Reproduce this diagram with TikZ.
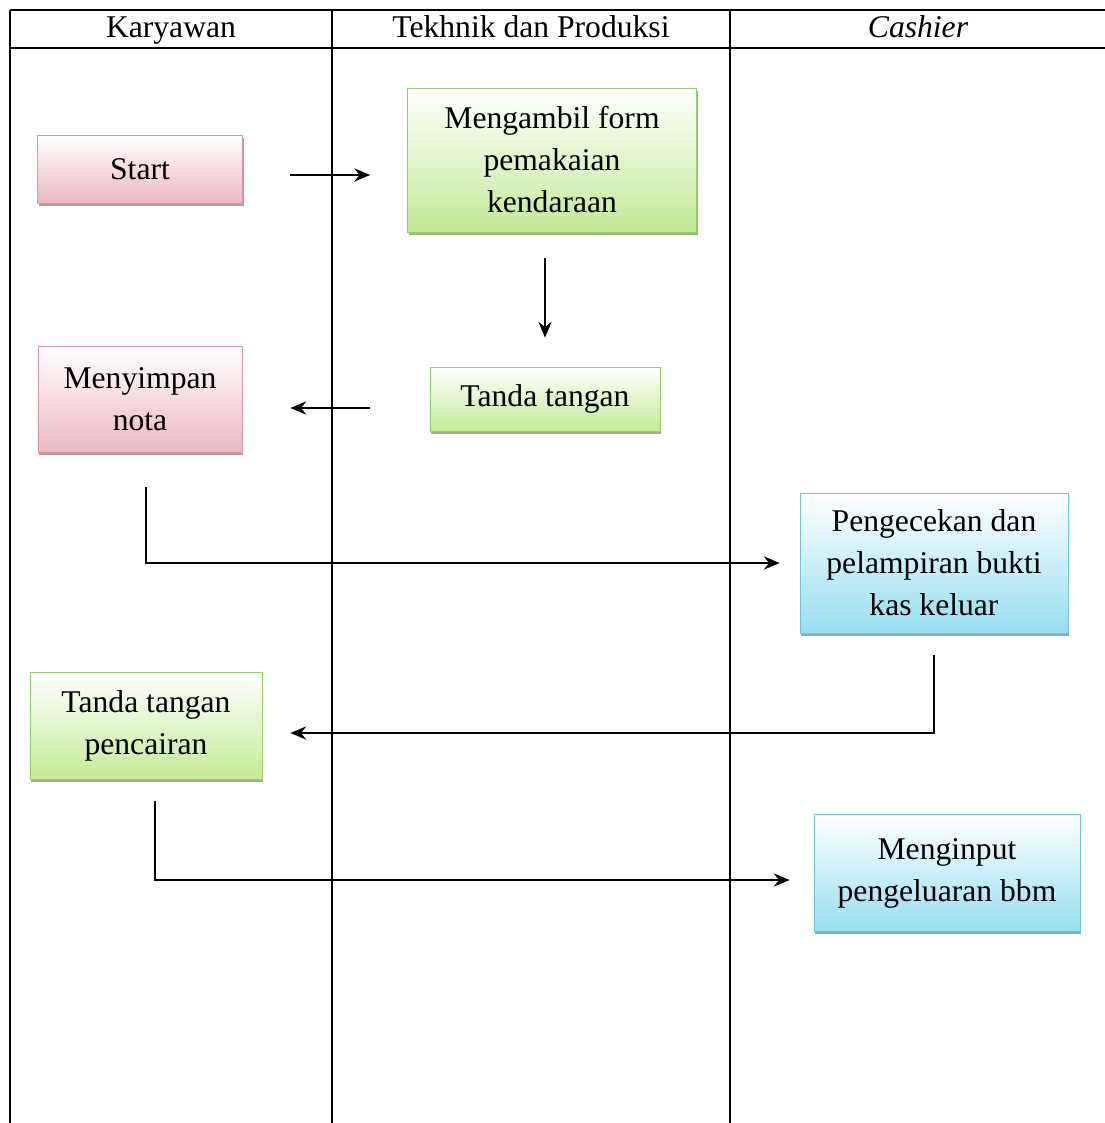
\documentclass[tikz,border=0pt]{standalone}
\usepackage{fontspec}
\setmainfont{Liberation Serif}
\usetikzlibrary{arrows.meta,shadows,positioning}
\definecolor{pinkfill}{RGB}{236,184,194}
\definecolor{pinkborder}{RGB}{222,150,164}
\definecolor{greenfill}{RGB}{196,234,150}
\definecolor{greenborder}{RGB}{150,208,110}
\definecolor{bluefill}{RGB}{150,222,240}
\definecolor{blueborder}{RGB}{110,196,224}
\tikzset{
    >={Stealth[length=9pt,width=7.5pt]},
    font={\fontsize{18pt}{23.9pt}\selectfont},
    lane/.style={draw, line width=0.9pt},
    header/.style={anchor=base},
    procbox/.style={
        rectangle,
        draw=#1border, thin,
        top color=white,
        bottom color=#1fill,
        align=center,
        drop shadow={shadow xshift=0.6pt, shadow yshift=-1.6pt,
                     fill=#1border!60!black, opacity=0.6}
    },
    flow/.style={draw, line width=1.1pt, ->},
}
\begin{document}
\begin{tikzpicture}[x=0.02cm, y=-0.02cm]
        \useasboundingbox (0,0) rectangle (1105,1123);

        % Swimlanes and header
        \draw[lane] (10,10) -- (1105,10);
        \draw[lane] (10,48) -- (1105,48);
        \foreach \x in {10,332,730}
            \draw[lane] (\x,10) -- (\x,1123);

        \node[header] (hkar)  at (171,37) {Karyawan};
        \node[header] (htek)  at (531,37) {Tekhnik dan Produksi};
        \node[header] (hcash) at (918,37) {\itshape Cashier};

        % Process steps
        \node[procbox=pink, minimum width=4.1cm, minimum height=1.36cm]    (start)  at (140,169) {Start};
        \node[procbox=green, minimum width=5.78cm, minimum height=2.88cm]  (ambil)  at (552,160) {Mengambil form\\ pemakaian\\ kendaraan};
        \node[procbox=green, minimum width=4.6cm, minimum height=1.28cm]   (ttd)    at (545,399) {Tanda tangan};
        \node[procbox=pink, minimum width=4.08cm, minimum height=2.12cm]   (simpan) at (140,399) {Menyimpan\\ nota};
        \node[procbox=blue, minimum width=5.36cm, minimum height=2.8cm]    (cek)    at (934,563) {Pengecekan dan\\ pelampiran bukti\\ kas keluar};
        \node[procbox=green, minimum width=4.64cm, minimum height=2.14cm]  (cair)   at (146,726) {Tanda tangan\\ pencairan};
        \node[procbox=blue, minimum width=5.32cm, minimum height=2.34cm]   (input)  at (947,873) {Menginput\\ pengeluaran bbm};

        % Flow
        \draw[flow, shorten <=0.95cm, shorten >=0.74cm] ([yshift=-0.12cm]start.east) -- ([yshift=-0.12cm]start.east -| ambil.west);
        \draw[flow, shorten <=0.52cm, shorten >=0.58cm] (ambil.south -| ttd) -- (ttd.north);
        \draw[flow, shorten <=1.2cm, shorten >=0.96cm] ([yshift=-0.18cm]ttd.west) -- ([yshift=-0.18cm]ttd.west -| simpan.east);
        \draw[flow, shorten <=0.7cm, shorten >=0.4cm] ([xshift=0.12cm]simpan.south) |- (cek.west);
        \draw[flow, shorten <=0.44cm, shorten >=0.56cm] (cek.south) |- ([yshift=-0.14cm]cair.east);
        \draw[flow, shorten <=0.42cm, shorten >=0.48cm] ([xshift=0.18cm]cair.south) |- ([yshift=-0.14cm]input.west);

\end{tikzpicture}
\end{document}
